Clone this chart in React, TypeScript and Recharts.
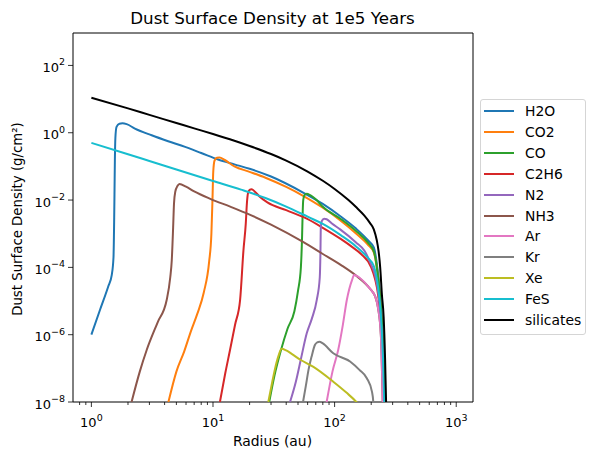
import React from "react";
import { LineChart, Line, XAxis, YAxis, ReferenceArea } from "recharts";

// [radius (au), dust surface density (g/cm^2)]
const h2o = [
  [1, 1e-6], [1.18, 5.6e-6], [1.38, 2.8e-5], [1.47, 5.9e-5], [1.52, 2e-4], [1.54, 3e-3],
  [1.55, 0.02], [1.56, 0.15], [1.575, 0.7], [1.61, 1.5], [1.7, 1.85], [1.8, 1.9],
  [1.95, 1.8], [2.28, 1.33], [3.13, 0.84], [4.28, 0.56], [5.9, 0.38], [8, 0.25],
  [11, 0.16], [15, 0.115], [20, 0.085], [30, 0.05], [56, 0.0162], [80, 0.0077],
  [113, 0.0032], [150, 0.00142], [188, 6.4e-4], [210, 3.9e-4], [228, 6e-5], [240, 8e-6],
  [250, 5e-7], [257, 1e-8], [261, 1e-9],
];
const co2 = [
  [4.3, 1e-8], [5, 8e-8], [5.8, 3.2e-7], [6.6, 1.3e-6], [7.4, 4e-6], [8.4, 1.8e-5],
  [9.3, 1.5e-4], [9.7, 1e-3], [9.9, 0.01], [10.05, 0.07], [10.3, 0.15], [10.8, 0.18],
  [11.3, 0.185], [12.5, 0.155], [15, 0.1], [20, 0.069], [27, 0.046], [40, 0.0245],
  [56, 0.0129], [80, 0.0059], [113, 0.0024], [150, 0.00102], [188, 4.7e-4], [210, 2.8e-4],
  [228, 4.5e-5], [240, 6e-6], [250, 4e-7], [257, 1e-8], [261, 1e-9],
];
const co = [
  [29, 1e-8], [32, 6e-8], [36, 3.2e-7], [41, 1.5e-6], [46.7, 5e-6], [50, 2e-5],
  [52.8, 1e-4], [54, 8e-4], [54.6, 4e-3], [55.2, 0.01], [56.5, 0.014], [59, 0.0155],
  [63, 0.014], [70, 0.0105], [80, 0.0063], [113, 0.0027], [150, 0.0012], [188, 5.4e-4],
  [210, 3e-4], [228, 5e-5], [240, 7e-6], [250, 5e-7], [258, 1e-8], [262, 1e-9],
];
const c2h6 = [
  [11.4, 1e-8], [12.6, 7e-8], [13.8, 3.5e-7], [15.2, 2e-6], [16.7, 1.07e-5], [17.8, 3.2e-4],
  [18.6, 2e-3], [19, 0.008], [19.4, 0.016], [20, 0.02], [20.8, 0.021], [22, 0.018],
  [24, 0.013], [28, 0.0085], [40, 0.005], [59, 0.0028], [80, 0.0015], [113, 6.9e-4],
  [140, 4e-4], [165, 2.5e-4], [200, 1e-4], [215, 4.5e-5], [228, 1.5e-5], [240, 2e-6],
  [248, 1e-7], [254, 1e-9],
];
const n2 = [
  [43, 1e-8], [48, 4e-8], [53, 2e-7], [59, 1.1e-6], [65, 3e-6], [71.3, 1.07e-5],
  [75.5, 5e-5], [76.5, 3e-4], [77, 1.5e-3], [78.5, 0.0024], [82, 0.0028], [86, 0.0027],
  [95, 0.002], [111, 0.00135], [150, 5.5e-4], [176, 3.1e-4], [200, 1.2e-4], [215, 6e-5],
  [230, 1.5e-5], [240, 2.5e-6], [250, 1.5e-7], [256, 1e-9],
];
const nh3 = [
  [2.14, 1e-8], [2.5, 8e-8], [2.85, 3.5e-7], [3.5, 2.3e-6], [4.16, 1.07e-5], [4.45, 5e-5],
  [4.58, 1.6e-4], [4.7, 1.5e-3], [4.78, 0.008], [4.9, 0.018], [5.1, 0.026], [5.3, 0.03],
  [6, 0.025], [7, 0.018], [9.6, 0.0107], [14, 0.0063], [20, 0.0037], [30, 0.00186],
  [55, 5.7e-4], [80, 2.5e-4], [113, 1.17e-4], [150, 5.7e-5], [188, 2.75e-5], [200, 2.1e-5],
  [215, 1.4e-5], [228, 6e-6], [240, 1e-6], [247, 3e-8], [252, 1e-9],
];
const ar = [
  [86, 1e-8], [96, 8e-8], [107, 3.5e-7], [117, 2e-6], [126, 1.07e-5], [139, 4.2e-5],
  [145, 5.9e-5], [150, 5.7e-5], [175, 3.7e-5], [188, 2.75e-5], [200, 2.1e-5], [215, 1.4e-5],
  [228, 6e-6], [240, 1e-6], [247, 3e-8], [252, 1e-9],
];
const kr = [
  [55, 1e-8], [58, 3e-8], [61, 9e-8], [64.6, 2.2e-7], [69, 5e-7], [72, 5.9e-7],
  [75, 6.2e-7], [80, 5.5e-7], [97.5, 2.8e-7], [134, 1.6e-7], [160, 9e-8], [184, 5.1e-8],
  [203, 2e-8], [208, 1e-8], [212, 1e-9],
];
const xe = [
  [28.5, 1e-8], [30.5, 3.5e-8], [32.2, 9e-8], [34.5, 2.3e-7], [36.6, 3.8e-7], [40, 3.4e-7],
  [45, 2.6e-7], [52.3, 1.8e-7], [67, 1.1e-7], [97.5, 4e-8], [125, 1.9e-8], [151, 1e-8],
  [175, 5e-9],
];
const fes = [
  [1, 0.5], [2, 0.23], [3, 0.145], [5, 0.081], [10, 0.037], [17, 0.0204], [27, 0.0115],
  [40, 0.0064], [60, 0.0032], [80, 0.00195], [113, 8.9e-4], [150, 4.2e-4], [188, 1.9e-4],
  [210, 1.1e-4], [228, 2.5e-5], [240, 4e-6], [250, 2e-7], [256, 1e-8], [260, 1e-9],
];
const silicates = [
  [1, 11], [2, 5.3], [3, 3.4], [5, 1.95], [7, 1.35], [10, 0.92], [15, 0.578], [20, 0.404],
  [30, 0.233], [40, 0.149], [60, 0.0705], [80, 0.0374], [100, 0.0214], [130, 0.01],
  [150, 0.0062], [175, 0.0035], [195, 0.0021], [210, 0.00135], [222, 6.5e-4], [230, 3e-4],
  [237, 1e-4], [245, 1.5e-5], [253, 3.4e-6], [260, 2e-7], [265, 1e-8], [270, 1e-9],
];

const series = [
  { name: "H2O", color: "#1f77b4", points: h2o },
  { name: "CO2", color: "#ff7f0e", points: co2 },
  { name: "CO", color: "#2ca02c", points: co },
  { name: "C2H6", color: "#d62728", points: c2h6 },
  { name: "N2", color: "#9467bd", points: n2 },
  { name: "NH3", color: "#8c564b", points: nh3 },
  { name: "Ar", color: "#e377c2", points: ar },
  { name: "Kr", color: "#7f7f7f", points: kr },
  { name: "Xe", color: "#bcbd22", points: xe },
  { name: "FeS", color: "#17becf", points: fes },
  { name: "silicates", color: "#000000", points: silicates },
];

const X_DOMAIN = [0.706, 1374];
const Y_DOMAIN = [1e-8, 920];
const X_MAJOR = [1, 10, 100, 1000];
const X_MINOR = [0.8, 0.9, 2, 3, 4, 5, 6, 7, 8, 9, 20, 30, 40, 50, 60, 70, 80, 90, 200, 300, 400, 500, 600, 700, 800, 900];
const Y_TICKS = [1e-8, 1e-6, 1e-4, 1e-2, 1, 100];

const FONT = "DejaVu Sans, sans-serif";

function expLabel(v: number) {
  const e = Math.round(Math.log10(v));
  return e < 0 ? "\u2212" + Math.abs(e) : String(e);
}

function XTick(props: any) {
  const { x, y, payload } = props;
  const major = X_MAJOR.includes(payload.value);
  return (
    <g>
      <line x1={x} x2={x} y1={y} y2={y + (major ? 5 : 3)} stroke="#000" strokeWidth={0.8} />
      {major && (
        <text x={x} y={y + 25} textAnchor="middle" fontFamily={FONT} fontSize={13} fill="#000">
          10<tspan dy={-6.5} fontSize={9.5}>{expLabel(payload.value)}</tspan>
        </text>
      )}
    </g>
  );
}

function YTick(props: any) {
  const { x, y, payload } = props;
  return (
    <g>
      <line x1={x - 5} x2={x} y1={y} y2={y} stroke="#000" strokeWidth={0.8} />
      <text x={x - 8} y={y + 6.5} textAnchor="end" fontFamily={FONT} fontSize={13} fill="#000">
        10<tspan dy={-6.5} fontSize={9.5}>{expLabel(payload.value)}</tspan>
      </text>
    </g>
  );
}

export default function App() {
  return (
    <div style={{ position: "absolute", left: 0, top: 0, width: 595, height: 459, background: "#fff" }}>
      <LineChart width={595} height={459} margin={{ top: 33, right: 122, bottom: 0, left: 0 }}>
        <XAxis
          dataKey="x"
          type="number"
          scale="log"
          domain={X_DOMAIN}
          allowDataOverflow
          ticks={[...X_MAJOR, ...X_MINOR].sort((a, b) => a - b)}
          interval={0}
          tickSize={0}
          tickMargin={0}
          tickLine={false}
          axisLine={false}
          tick={XTick}
          height={57}
        />
        <YAxis
          dataKey="y"
          type="number"
          scale="log"
          domain={Y_DOMAIN}
          allowDataOverflow
          ticks={Y_TICKS}
          interval={0}
          tickSize={0}
          tickMargin={0}
          tickLine={false}
          axisLine={false}
          tick={YTick}
          width={73}
        />
        {series.map((s) => (
          <Line
            key={s.name}
            data={s.points.map(([x, y]) => ({ x, y }))}
            dataKey="y"
            name={s.name}
            type="monotone"
            stroke={s.color}
            strokeWidth={2}
            dot={false}
            activeDot={false}
            isAnimationActive={false}
          />
        ))}
        <ReferenceArea
          x1={X_DOMAIN[0]}
          x2={X_DOMAIN[1]}
          y1={Y_DOMAIN[0]}
          y2={Y_DOMAIN[1]}
          fill="none"
          fillOpacity={0}
          stroke="#000"
          strokeWidth={1}
          ifOverflow="visible"
        />
      </LineChart>
      <svg width={595} height={459} style={{ position: "absolute", left: 0, top: 0, pointerEvents: "none" }}>
        <text x={272.5} y={24} textAnchor="middle" fontFamily={FONT} fontSize={16.7} fill="#000">
          Dust Surface Density at 1e5 Years
        </text>
        <text x={272.5} y={445.5} textAnchor="middle" fontFamily={FONT} fontSize={13.9} fill="#000">
          Radius (au)
        </text>
        <text
          x={21.5}
          y={219}
          textAnchor="middle"
          fontFamily={FONT}
          fontSize={13.3}
          fill="#000"
          transform="rotate(-90 21.5 219)"
        >
          Dust Surface Density (g/cm²)
        </text>
      </svg>
      <div
        style={{
          position: "absolute",
          left: 480,
          top: 99,
          width: 104,
          height: 234,
          border: "1px solid #d5d5d5",
          borderRadius: 3,
          background: "rgba(255,255,255,0.8)",
          fontFamily: FONT,
          fontSize: 13.9,
        }}
      >
        {series.map((s, i) => (
          <div
            key={s.name}
            style={{ position: "absolute", left: 0, top: 1 + i * 20.9, height: 20, width: 104 }}
          >
            <div
              style={{ position: "absolute", left: 3, top: 9, width: 30, height: 2, background: s.color }}
            />
            <div style={{ position: "absolute", left: 44, top: 0, lineHeight: "20px", whiteSpace: "nowrap" }}>
              {s.name}
            </div>
          </div>
        ))}
      </div>
    </div>
  );
}
